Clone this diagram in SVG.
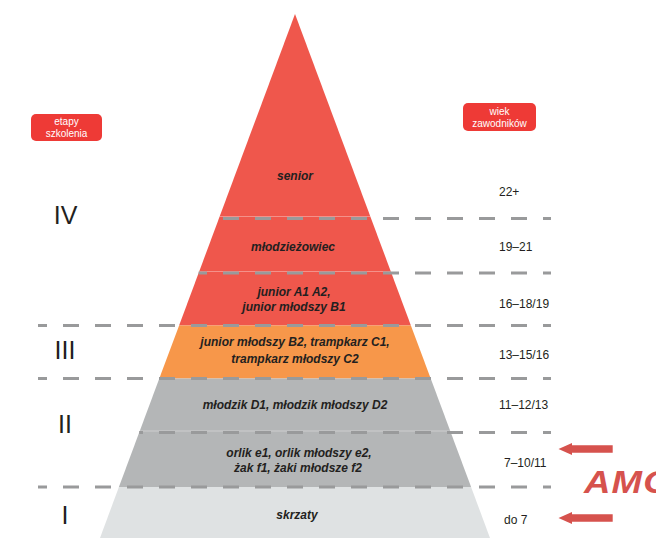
<svg xmlns="http://www.w3.org/2000/svg" width="656" height="538" viewBox="0 0 656 538">
<defs>
<style>
.band-text{font-family:"Liberation Sans",Arial,sans-serif;font-weight:bold;font-style:italic;font-size:12px;fill:#231F20;text-anchor:middle}
.age{font-family:"Liberation Sans",Arial,sans-serif;font-size:12px;fill:#231F20}
.roman{font-family:"Liberation Sans",Arial,sans-serif;font-size:25px;fill:#231F20;text-anchor:middle}
.tag{fill:#EE3A36}
.tag-text{font-family:"Liberation Sans",Arial,sans-serif;font-size:10px;fill:#FFFFFF;text-anchor:middle}
.dash{stroke:#999A9B;stroke-width:3;stroke-dasharray:16 16;stroke-dashoffset:8;fill:none}
.seam{stroke:#FFFFFF;stroke-opacity:0.35;stroke-width:1;fill:none}
.arrow{fill:#D6524D}
.amo{font-family:"Liberation Sans",Arial,sans-serif;font-weight:bold;font-style:italic;font-size:31px;fill:#D6524D;letter-spacing:1px}
</style>
</defs>
<rect width="656" height="538" fill="#FFFFFF"/>

<g id="band-red">
<polygon points="295,14 410.9,325.5 179.1,325.5" fill="#EF574C"/>
<line class="seam" x1="219.6" y1="216.5" x2="370.4" y2="216.5"/>
<line class="seam" x1="199.3" y1="271.5" x2="390.7" y2="271.5"/>
</g>
<g id="node-senior"><text class="band-text" x="295" y="180">senior</text></g>
<g id="node-mlodziezowiec"><text class="band-text" x="293" y="251">młodzieżowiec</text></g>
<g id="node-junior"><text class="band-text" x="294" y="296">junior A1 A2,</text><text class="band-text" x="294" y="311">junior młodszy B1</text></g>

<g id="band-orange">
<polygon points="179.1,325.5 410.9,325.5 430.7,378.5 159.3,378.5" fill="#F7974A"/>
<text class="band-text" x="295" y="346">junior młodszy B2, trampkarz C1,</text>
<text class="band-text" x="295" y="363">trampkarz młodszy C2</text>
</g>

<g id="band-grey">
<polygon points="159.3,378.5 430.7,378.5 471.1,487 118.9,487" fill="#B4B6B7"/>
<line class="seam" x1="139.9" y1="431" x2="450.1" y2="431"/>
</g>
<g id="node-mlodzik"><text class="band-text" x="295" y="409">młodzik D1, młodzik młodszy D2</text></g>
<g id="node-orlik"><text class="band-text" x="299" y="457">orlik e1, orlik młodszy e2,</text><text class="band-text" x="298" y="472">żak f1, żaki młodsze f2</text></g>

<g id="band-light">
<polygon points="118.9,487 471.1,487 490,538 100,538" fill="#DFE2E3"/>
<text class="band-text" x="297" y="519">skrzaty</text>
</g>

<g id="dividers">
<line class="dash" x1="551" y1="218.5" x2="219" y2="218.5"/>
<line class="dash" x1="551" y1="273" x2="198.6" y2="273"/>
<line class="dash" x1="551" y1="325.5" x2="38" y2="325.5"/>
<line class="dash" x1="551" y1="378.5" x2="38" y2="378.5"/>
<line class="dash" x1="551" y1="432.5" x2="139.2" y2="432.5"/>
<line class="dash" x1="551" y1="487" x2="38" y2="487"/>
</g>

<g id="label-etapy">
<rect class="tag" x="31" y="114" width="71" height="27" rx="5"/>
<text class="tag-text" x="66.5" y="124.5">etapy</text>
<text class="tag-text" x="66.5" y="136.5">szkolenia</text>
</g>
<g id="label-wiek">
<rect class="tag" x="463" y="103" width="73" height="28" rx="5"/>
<text class="tag-text" x="499.5" y="114.5">wiek</text>
<text class="tag-text" x="499.5" y="126.5">zawodników</text>
</g>

<g id="stages">
<text class="roman" x="65.5" y="224">IV</text>
<text class="roman" x="65" y="358.5">III</text>
<text class="roman" x="65" y="432.5">II</text>
<text class="roman" x="65" y="524">I</text>
</g>

<g id="ages">
<text class="age" x="499" y="196">22+</text>
<text class="age" x="499" y="251">19–21</text>
<text class="age" x="499" y="308">16–18/19</text>
<text class="age" x="499" y="359">13–15/16</text>
<text class="age" x="499" y="409">11–12/13</text>
<text class="age" x="504" y="467">7–10/11</text>
<text class="age" x="504" y="524">do 7</text>
</g>

<g id="connectors">
<polygon class="arrow" points="558.5,449 572,443 572,445.3 612.7,445.3 612.7,452.7 572,452.7 572,455"/>
<polygon class="arrow" points="558.5,518 572,512 572,514.3 612.7,514.3 612.7,521.7 572,521.7 572,524"/>
</g>

<g id="node-amo">
<text class="amo" transform="translate(584,493) scale(1.18,1)" x="0" y="0">AMO</text>
</g>
</svg>
